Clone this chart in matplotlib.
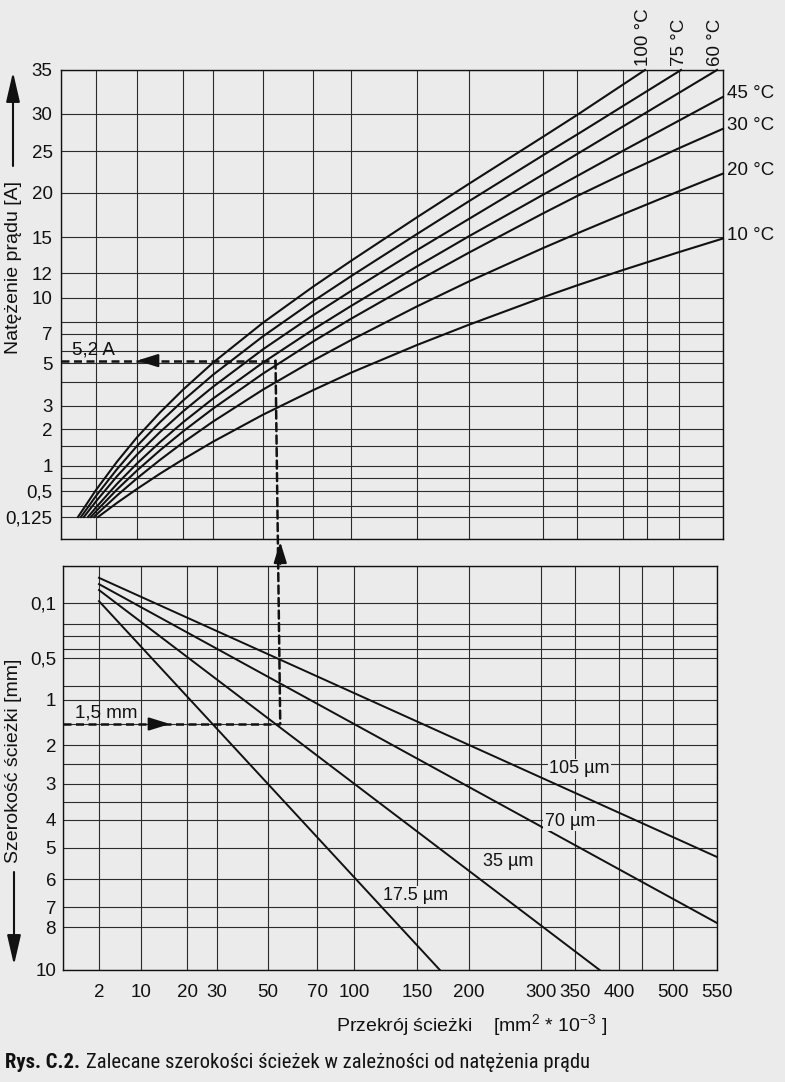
import numpy as np
import matplotlib
matplotlib.use('Agg')
import matplotlib.pyplot as plt
from matplotlib.patches import ConnectionPatch
from matplotlib.text import Annotation
from matplotlib import font_manager
from matplotlib.font_manager import FontProperties

# ------------------------------------------------------------------ data
section_grid = [0, 2, 10, 20, 30, 50, 70, 100, 150, 200, 300, 350, 400, 450, 500, 550]
section_labels = ['', '2', '10', '20', '30', '50', '70', '100', '150', '200',
                  '300', '350', '400', '', '500', '550']

current_grid = [0, 0.125, 0.25, 0.5, 0.75, 1, 1.5, 2, 3, 4, 5, 6, 7, 8, 10,
                12, 15, 20, 25, 30, 35]
current_labels = {0.125: '0,125', 0.5: '0,5', 1: '1', 2: '2', 3: '3', 5: '5',
                  7: '7', 10: '10', 12: '12', 15: '15', 20: '20', 25: '25',
                  30: '30', 35: '35'}

width_grid = [0, 0.1, 0.2, 0.3, 0.4, 0.5, 0.75, 1, 1.5, 2, 2.5, 3, 3.5, 4,
              5, 6, 7, 8, 10]
width_labels = {0.1: '0,1', 0.5: '0,5', 1: '1', 2: '2', 3: '3', 4: '4',
                5: '5', 6: '6', 7: '7', 8: '8', 10: '10'}

# temperature-rise curves: section [mm2*1e-3] -> current [A]
t100_x = [0.97, 2, 6.1, 10, 15, 20, 30, 50, 70, 100, 150, 200, 300, 350, 445.8]
t100_y = [0.125, 0.519, 1.108, 1.756, 2.717, 3.679, 5.025, 7.94, 10.9, 13.01,
          17.24, 21.1, 26.92, 29.86, 35]
t75_x = [1.14, 2, 6.1, 10, 15, 20, 30, 50, 70, 100, 150, 200, 300, 350, 502.3]
t75_y = [0.125, 0.417, 0.935, 1.502, 2.296, 3.225, 4.379, 6.865, 9.725, 11.744,
         15.34, 19.07, 24.49, 27.22, 35]
t60_x = [1.31, 2, 6.1, 10, 15, 20, 30, 50, 70, 100, 150, 200, 300, 350, 543.2]
t60_y = [0.125, 0.327, 0.7875, 1.285, 1.909, 2.765, 3.8, 6.1, 8.558, 10.56,
         13.91, 17.06, 22.2, 24.63, 35]
t45_x = [1.54, 2, 6.1, 10, 15, 20, 30, 50, 70, 100, 150, 200, 300, 350, 400, 500, 550]
t45_y = [0.125, 0.234, 0.637, 1.0625, 1.615, 2.291, 3.308, 5.033, 7.367, 9.333,
         12.55, 15.09, 19.8, 22.01, 25.03, 29.11, 31.95]
t30_x = [1.71, 2, 6.1, 10, 15, 20, 30, 50, 70, 100, 150, 200, 300, 350, 400, 500, 550]
t30_y = [0.125, 0.189, 0.529, 0.906, 1.3925, 1.929, 2.887, 4.442, 6.553, 8.267,
         11.344, 13.7, 17.68, 19.65, 22.26, 25.38, 28.0]
t20_x = [1.89, 2, 6.1, 10, 15, 20, 30, 50, 70, 100, 150, 200, 300, 350, 400, 500, 550]
t20_y = [0.125, 0.148, 0.425, 0.744, 1.1525, 1.6, 2.322, 3.683, 5.2, 6.641,
         9.3, 11.328, 14.075, 15.4, 17.59, 20.21, 22.31]
t10_x = [2.39, 6.1, 10, 15, 20, 30, 50, 70, 100, 150, 200, 300, 350, 400, 500, 550]
t10_y = [0.125, 0.302, 0.54, 0.84, 1.165, 1.626, 2.622, 3.658, 4.489, 6.353,
         7.775, 10.056, 11.008, 12.25, 13.74, 14.875]
temp_labels = ['100 °C', '75 °C', '60 °C', '45 °C', '30 °C', '20 °C', '10 °C']

# copper thickness lines: section -> track width [mm]
cu105_x = [2, 550]
cu105_y = [0.032, 5.29]
cu70_x = [2, 550]
cu70_y = [0.049, 7.8]
cu35_x = [2, 378]
cu35_y = [0.065, 10]
cu17_x = [2, 172]
cu17_y = [0.095, 10]
cu_labels = ['105 µm', '70 µm', '35 µm', '17.5 µm']

# worked example
ex_width = 1.5
ex_current = 5.2
ex_section = 55

# ------------------------------------------------------------------ layout (geometry of the printed, non-uniform grid)
W, H = 785, 1082
top_box = (61, 70, 723, 539)      # left, top, right, bottom in px
bot_box = (63, 566, 717, 970)
top_x_px = [61, 96, 137, 183, 213, 263, 313, 351, 417, 469, 543, 577, 623, 647, 679, 723]
bot_x_px = [63, 99, 141, 187, 217, 268, 317, 354, 417, 469, 541, 575, 619, 642, 673, 717]
top_y_px = [539, 517, 506, 491, 478, 466, 446, 429, 406, 382, 363, 351, 334,
            322, 298, 273, 237, 193, 151, 114, 70]
bot_y_px = [566, 603, 624, 636, 649, 658, 686, 700, 724, 745, 764, 784, 802,
            820, 848, 879, 907, 927, 970]


def interp_scale(vals, fracs):
    vals = np.asarray(vals, float)
    fracs = np.asarray(fracs, float)

    def fwd(v):
        return np.interp(np.asarray(v, float), vals, fracs)

    def inv(f):
        return np.interp(np.asarray(f, float), fracs, vals)
    return fwd, inv


plt.rcParams['font.family'] = ['Liberation Sans', 'DejaVu Sans']
plt.rcParams['mathtext.fontset'] = 'custom'
plt.rcParams['mathtext.rm'] = 'Liberation Sans'
plt.rcParams['mathtext.it'] = 'Liberation Sans'
plt.rcParams['mathtext.bf'] = 'Liberation Sans:bold'

BG = '#ebebeb'
INK = '#111111'
GRID = '#2b2b2b'

fig = plt.figure(figsize=(W / 100, H / 100), dpi=100, facecolor=BG)


def add_ax(box):
    l, t, r, b = box
    return fig.add_axes([l / W, 1 - b / H, (r - l) / W, (b - t) / H])


ax1 = add_ax(top_box)
ax2 = add_ax(bot_box)

for ax, xpx, box in ((ax1, top_x_px, top_box), (ax2, bot_x_px, bot_box)):
    l, t, r, b = box
    f, i = interp_scale(section_grid, [(p - l) / (r - l) for p in xpx])
    ax.set_xscale('function', functions=(f, i))
    ax.set_xlim(0, 550)
    ax.set_facecolor(BG)
    for s in ax.spines.values():
        s.set_linewidth(1.0)
        s.set_color(INK)
    ax.set_xticks(section_grid)
    ax.grid(True, color=GRID, linewidth=0.8)
    ax.tick_params(length=0, labelsize=13.5, colors=INK)
    ax.set_axisbelow(True)

# top y scale
l, t, r, b = top_box
f, i = interp_scale(current_grid, [(b - p) / (b - t) for p in top_y_px])
ax1.set_yscale('function', functions=(f, i))
ax1.set_ylim(0, 35)
ax1.set_yticks(current_grid)
ax1.set_yticklabels([current_labels.get(v, '') for v in current_grid])
ax1.set_xticklabels([])
ax1.tick_params(axis='y', pad=6)

# bottom y scale (inverted)
l, t, r, b = bot_box
f, i = interp_scale(width_grid, [(p - t) / (b - t) for p in bot_y_px])
ax2.set_yscale('function', functions=(f, i))
ax2.set_ylim(10, 0)
ax2.set_yticks(width_grid)
ax2.set_yticklabels([width_labels.get(v, '') for v in width_grid])
ax2.set_xticklabels(section_labels)
ax2.tick_params(axis='y', pad=5)
ax2.tick_params(axis='x', pad=10)

# ------------------------------------------------------------------ curves
curves = [(t100_x, t100_y), (t75_x, t75_y), (t60_x, t60_y), (t45_x, t45_y),
          (t30_x, t30_y), (t20_x, t20_y), (t10_x, t10_y)]
for (xs, ys), lab in zip(curves, temp_labels):
    ax1.plot(xs, ys, color=INK, lw=1.5, solid_joinstyle='round', clip_on=False)
    if ys[-1] >= 35:
        ax1.annotate(lab, xy=(xs[-1], ys[-1]), xytext=(-1, 3),
                     textcoords='offset points', rotation=90, ha='center',
                     va='bottom', fontsize=13.5, color=INK, annotation_clip=False)
    else:
        ax1.annotate(lab, xy=(xs[-1], ys[-1]), xytext=(3, 2.5),
                     textcoords='offset points', ha='left', va='center',
                     fontsize=13.5, color=INK, annotation_clip=False)

lines = [(cu105_x, cu105_y), (cu70_x, cu70_y), (cu35_x, cu35_y), (cu17_x, cu17_y)]
for xs, ys in lines:
    ax2.plot(xs, ys, color=INK, lw=1.4)

cu_pos = [(355, 2.62), (342.6, 4.04), (254, 5.45), (149, 6.6)]
for lab, (px, py) in zip(cu_labels, cu_pos):
    ax2.text(px, py, lab, ha='center', va='center', fontsize=13, color=INK,
             bbox=dict(facecolor=BG, edgecolor='none', pad=1.0))

# ------------------------------------------------------------------ worked example
dash = dict(color=INK, lw=1.8, dashes=(3.2, 1.8))
ax1.plot([0, ex_section], [ex_current, ex_current], clip_on=False, **dash)
ax2.plot([0, ex_section], [ex_width, ex_width], clip_on=False, **dash)
con = ConnectionPatch(xyA=(ex_section, ex_current), coordsA=ax1.transData,
                      xyB=(ex_section, ex_width), coordsB=ax2.transData,
                      color=INK, lw=1.8, linestyle=(0, (3.2, 1.8)))
fig.add_artist(con)

arrow = dict(arrowstyle='-|>,head_length=0.9,head_width=0.28', color=INK,
             lw=1.6, shrinkA=0, shrinkB=0, mutation_scale=14)
ax1.annotate('', xy=(10.0, ex_current), xytext=(13.6, ex_current), arrowprops=arrow)
ax2.annotate('', xy=(16.3, ex_width), xytext=(12.8, ex_width), arrowprops=arrow)
ax2.annotate('', xy=(ex_section, 1.06), xycoords=('data', 'axes fraction'),
             xytext=(ex_section, 1.005), textcoords=('data', 'axes fraction'),
             arrowprops=arrow, annotation_clip=False)

ax1.annotate('5,2 A', xy=(0.6, ex_current), xytext=(0, 1.5),
             textcoords='offset points', ha='left', va='bottom', fontsize=13.5,
             color=INK)
ax2.annotate('1,5 mm', xy=(0.67, ex_width), xytext=(0, 2),
             textcoords='offset points', ha='left', va='bottom', fontsize=13.5,
             color=INK)

# ------------------------------------------------------------------ axis titles
fig.text(14 / W, 1 - 267 / H, 'Natężenie prądu [A]', rotation=90,
         ha='center', va='center', fontsize=14, color=INK)
fig.text(14 / W, 1 - 761 / H, 'Szerokość ścieżki [mm]', rotation=90,
         ha='center', va='center', fontsize=14, color=INK)
yarrow = dict(arrowstyle='-|>,head_length=1.3,head_width=0.3', color=INK,
              lw=1.5, shrinkA=0, shrinkB=0, mutation_scale=14)
fig.add_artist(Annotation(
    '', xy=(13 / W, 1 - 72 / H), xycoords='figure fraction',
    xytext=(13 / W, 1 - 166 / H), textcoords='figure fraction', arrowprops=yarrow))
fig.add_artist(Annotation(
    '', xy=(14 / W, 1 - 965 / H), xycoords='figure fraction',
    xytext=(14 / W, 1 - 872 / H), textcoords='figure fraction', arrowprops=yarrow))

xlab = fig.text(472 / W, 1 - 1025 / H,
                'Przekrój ścieżki    [mm$^{2}$ * 10$^{-3}$ ]',
                ha='center', va='center', fontsize=14, color=INK)

# caption: prefer a condensed sans face if one is installed


def weight_num(w):
    if isinstance(w, (int, float)):
        return int(w)
    return font_manager.weight_dict.get(str(w), 400)


def pick_condensed():
    order = ['Liberation Sans Narrow', 'Arial Narrow', 'Nimbus Sans Narrow',
             'Roboto Condensed', 'Open Sans Condensed', 'Noto Sans Condensed',
             'DejaVu Sans Condensed', 'Noto Sans', 'Open Sans', 'Roboto',
             'DejaVu Sans']
    found = {}
    for e in font_manager.fontManager.ttflist:
        nm = e.name
        if 'Mono' in nm or 'Serif' in nm or 'CJK' in nm:
            continue
        st = str(e.stretch).lower()
        cond = ('Narrow' in nm or 'Condensed' in nm or 'condensed' in st
                or 'narrow' in st or 'condensed' in e.fname.lower())
        if not cond or e.style != 'normal':
            continue
        w = weight_num(e.weight)
        found.setdefault(nm, {})
        if w == 400 or (w < 500 and 'reg' not in found[nm]):
            found[nm]['reg'] = e.fname
        if w == 700 or (w >= 600 and 'bold' not in found[nm]):
            found[nm]['bold'] = e.fname
    for nm in order:
        if nm in found and 'reg' in found[nm]:
            d = found[nm]
            return FontProperties(fname=d['reg']), FontProperties(fname=d.get('bold', d['reg']))
    return None, None


reg_fp, bold_fp = pick_condensed()
if reg_fp is None:
    reg_fp = FontProperties(family='Liberation Sans')
    bold_fp = FontProperties(family='Liberation Sans', weight='bold')
cap_size = 15
bold_fp.set_size(cap_size)
reg_fp.set_size(cap_size)
t1 = fig.text(5 / W, 1 - 1063 / H, 'Rys. C.2.', ha='left', va='center',
              fontproperties=bold_fp, color=INK)
t2 = Annotation('Zalecane szerokości ścieżek w zależności od natężenia prądu',
                xy=(1, 0.5), xycoords=t1, xytext=(4, 0), textcoords='offset points',
                ha='left', va='center', fontproperties=reg_fp, color=INK)
fig.add_artist(t2)

# fit the caption to the printed width (5 px .. 590 px)
fig.canvas.draw()
rend = fig.canvas.get_renderer()
wpx = t2.get_window_extent(rend).x1 - t1.get_window_extent(rend).x0
new = cap_size * 585.0 / wpx
new = min(new, 17)
bold_fp.set_size(new)
reg_fp.set_size(new)
t1.set_fontproperties(bold_fp)
t2.set_fontproperties(reg_fp)

fig.savefig('out.png', dpi=100, facecolor=BG)
